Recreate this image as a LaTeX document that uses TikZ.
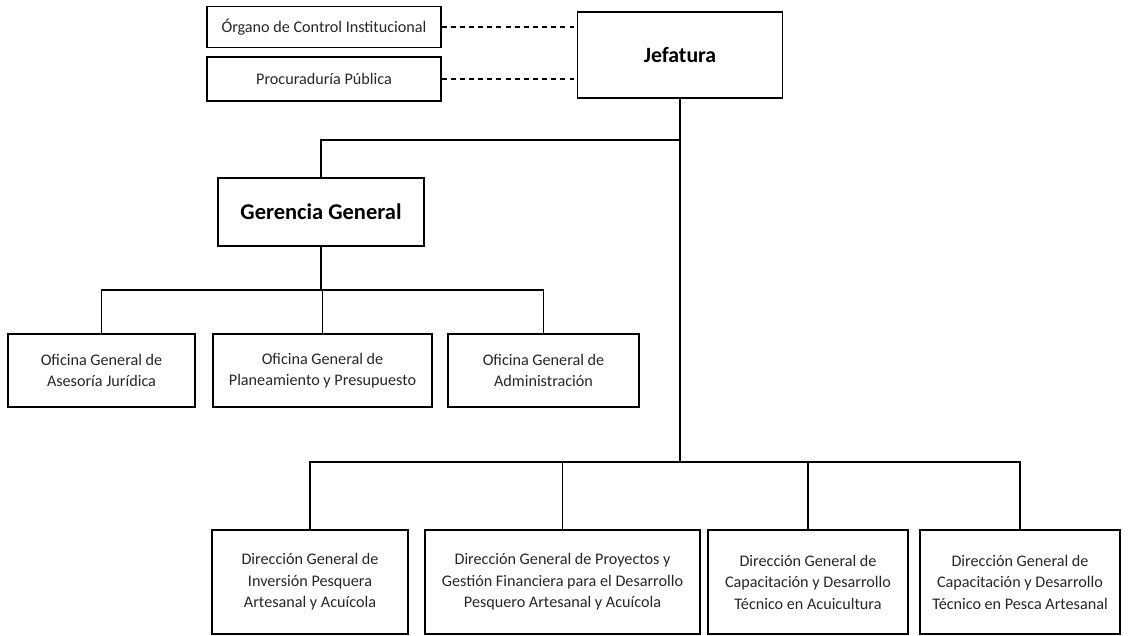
\documentclass[tikz,border=0pt]{standalone}
\usepackage{fontspec}
\setmainfont{Carlito}
\tikzset{
  box/.style={draw, line width=0.8pt, align=center, inner sep=2pt,
    font=\fontsize{11.5}{15.3}\selectfont, text=black!85},
  headbox/.style={box, font=\fontsize{16}{19}\bfseries\selectfont, text=black},
  link/.style={line width=0.8pt},
  staff/.style={line width=0.8pt, dash pattern=on 3.5pt off 3pt}
}
\begin{document}
\begin{tikzpicture}[x=0.025cm,y=-0.025cm]
        \useasboundingbox (0,0) rectangle (1128,636);
        % top level
        \node [box, minimum width=5.85cm, minimum height=1.025cm] (oci) at (324,27) {Órgano de Control Institucional};
        \node [box, minimum width=5.85cm, minimum height=1.1cm] (proc) at (324,79) {Procuraduría Pública};
        \node [headbox, font=\fontsize{15.5}{19}\bfseries\selectfont, minimum width=5.125cm, minimum height=2.15cm] (jef) at (680,55) {Jefatura};
        \node [headbox, minimum width=5.15cm, minimum height=1.7cm] (ger) at (321,212) {Gerencia General};
        % oficinas
        \node [box, minimum width=4.675cm, minimum height=1.825cm] (of1) at (101.5,370.5) {Oficina General de\\Asesoría Jurídica};
        \node [box, minimum width=5.475cm, minimum height=1.825cm] (of2) at (322.5,370.5) {Oficina General de\\Planeamiento y Presupuesto};
        \node [box, minimum width=4.775cm, minimum height=1.825cm] (of3) at (543.5,370.5) {Oficina General de\\Administración};
        % direcciones
        \node [box, minimum width=4.9cm, minimum height=2.6cm] (dir1) at (310,582) {Dirección General de\\Inversión Pesquera\\Artesanal y Acuícola};
        \node [box, minimum width=6.875cm, minimum height=2.6cm] (dir2) at (562.5,582) {Dirección General de Proyectos y\\Gestión Financiera para el Desarrollo\\Pesquero Artesanal y Acuícola};
        \node [box, minimum width=5cm, minimum height=2.6cm] (dir3) at (808,582) {Dirección General de\\Capacitación y Desarrollo\\Técnico en Acuicultura};
        \node [box, minimum width=5cm, minimum height=2.6cm] (dir4) at (1020,582) {Dirección General de\\Capacitación y Desarrollo\\Técnico en Pesca Artesanal};
        % buses
        \coordinate (gbus) at (681,140);
        \coordinate (obus) at (0,290);
        \coordinate (dbus) at (0,462);
        % connectors
        \draw [staff] (oci.east) -- (oci.east -| jef.west);
        \draw [staff] (proc.east) -- (proc.east -| jef.west);
        \draw [link] (jef.south) -- (jef.south |- dbus);
        \draw [link] (jef.south |- gbus) -| (ger.north);
        \draw [link] (ger.south) -- (ger.south |- obus);
        \draw [link] (of1.north) -- (of1.north |- obus) -| (of3.north);
        \draw [link] (of2.north) -- (of2.north |- obus);
        \draw [link] (dir1.north) -- (dir1.north |- dbus) -| (dir4.north);
        \draw [link] (dir2.north) -- (dir2.north |- dbus);
        \draw [link] (dir3.north) -- (dir3.north |- dbus);
\end{tikzpicture}
\end{document}
